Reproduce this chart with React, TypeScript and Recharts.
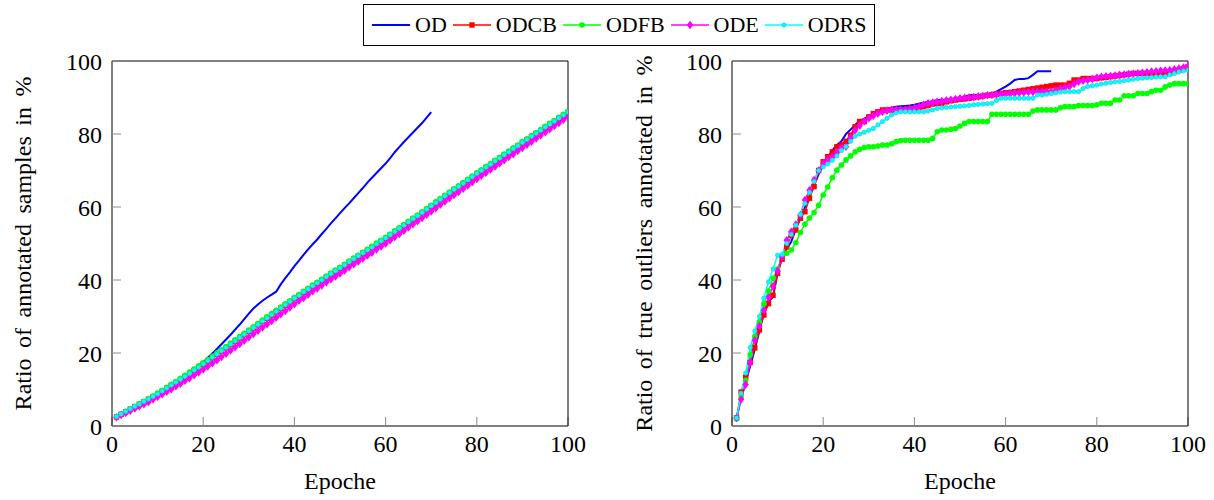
import React from 'react';
import { LineChart, Line, XAxis, YAxis } from 'recharts';

const epochTicks = [0, 20, 40, 60, 80, 100];
const ratioTicks = [0, 20, 40, 60, 80, 100];

// left panel: ratio of annotated samples (%)
const annotatedOD = [
  2.5, 3.2, 3.9, 4.6, 5.3, 6.0, 6.7, 7.5, 8.2, 9.0,
  9.8, 10.6, 11.4, 12.2, 13.0, 13.8, 14.7, 15.6, 16.5, 17.5,
  18.7, 19.9, 21.1, 22.4, 23.7, 25.0, 26.4, 27.8, 29.3, 30.8,
  32.2, 33.3, 34.3, 35.2, 36.0, 36.8, 38.8, 40.5, 42.1, 43.8,
  45.3, 46.9, 48.4, 49.8, 51.1, 52.6, 54.0, 55.5, 56.9, 58.3,
  59.7, 61.0, 62.4, 63.8, 65.2, 66.7, 68.0, 69.3, 70.6, 71.9,
  73.4, 75.0, 76.4, 77.8, 79.1, 80.4, 81.7, 83.0, 84.5, 86.0,
];
const annotatedODCB = [
  2.5, 3.2, 3.9, 4.6, 5.3, 6.0, 6.6, 7.3, 8.0, 8.7,
  9.5, 10.3, 11.1, 11.9, 12.7, 13.5, 14.3, 15.2, 16.0, 16.9,
  17.8, 18.7, 19.6, 20.5, 21.4, 22.3, 23.2, 24.1, 25.0, 25.9,
  26.8, 27.7, 28.6, 29.5, 30.4, 31.3, 32.2, 33.1, 34.0, 34.9,
  35.7, 36.6, 37.4, 38.3, 39.1, 39.9, 40.8, 41.6, 42.4, 43.2,
  44.0, 44.9, 45.7, 46.5, 47.3, 48.1, 48.9, 49.8, 50.6, 51.4,
  52.3, 53.2, 54.0, 54.9, 55.8, 56.7, 57.5, 58.4, 59.3, 60.2,
  61.1, 62.0, 62.9, 63.8, 64.7, 65.5, 66.4, 67.3, 68.2, 69.1,
  69.9, 70.8, 71.6, 72.5, 73.3, 74.2, 75.0, 75.9, 76.7, 77.6,
  78.4, 79.3, 80.1, 80.9, 81.8, 82.6, 83.4, 84.3, 85.1, 85.9,
];
const annotatedODFB = [
  2.6, 3.3, 4.0, 4.7, 5.4, 6.1, 6.8, 7.5, 8.2, 9.0,
  9.8, 10.6, 11.4, 12.2, 13.1, 13.9, 14.8, 15.6, 16.5, 17.3,
  18.2, 19.1, 20.0, 20.9, 21.8, 22.7, 23.6, 24.5, 25.4, 26.3,
  27.2, 28.1, 29.0, 29.9, 30.8, 31.7, 32.6, 33.5, 34.3, 35.2,
  36.0, 36.9, 37.7, 38.6, 39.4, 40.2, 41.1, 41.9, 42.7, 43.5,
  44.3, 45.2, 46.0, 46.8, 47.6, 48.4, 49.2, 50.1, 50.9, 51.7,
  52.6, 53.5, 54.3, 55.2, 56.1, 57.0, 57.8, 58.7, 59.6, 60.5,
  61.4, 62.3, 63.2, 64.1, 65.0, 65.8, 66.7, 67.6, 68.5, 69.4,
  70.2, 71.1, 71.9, 72.8, 73.6, 74.5, 75.3, 76.2, 77.0, 77.9,
  78.7, 79.6, 80.4, 81.2, 82.1, 82.9, 83.7, 84.6, 85.4, 86.2,
];
const annotatedODE = [
  2.4, 3.0, 3.6, 4.2, 4.8, 5.4, 6.0, 6.6, 7.3, 8.0,
  8.7, 9.4, 10.1, 10.9, 11.6, 12.4, 13.1, 13.9, 14.7, 15.5,
  16.3, 17.2, 18.0, 18.9, 19.8, 20.7, 21.6, 22.5, 23.4, 24.3,
  25.2, 26.1, 27.0, 27.9, 28.8, 29.7, 30.6, 31.5, 32.5, 33.4,
  34.3, 35.1, 36.0, 36.9, 37.7, 38.5, 39.4, 40.2, 41.0, 41.8,
  42.6, 43.5, 44.3, 45.1, 45.9, 46.7, 47.5, 48.4, 49.2, 50.0,
  50.9, 51.8, 52.6, 53.5, 54.4, 55.3, 56.1, 57.0, 57.9, 58.8,
  59.7, 60.6, 61.5, 62.4, 63.3, 64.1, 65.0, 65.9, 66.8, 67.7,
  68.6, 69.4, 70.3, 71.1, 72.0, 72.8, 73.7, 74.5, 75.4, 76.2,
  77.1, 77.9, 78.8, 79.6, 80.5, 81.3, 82.2, 83.0, 83.9, 84.7,
];
const annotatedODRS = [
  2.6, 3.3, 4.0, 4.7, 5.4, 6.0, 6.7, 7.4, 8.1, 8.8,
  9.6, 10.4, 11.2, 12.0, 12.8, 13.6, 14.4, 15.3, 16.1, 17.0,
  17.9, 18.8, 19.7, 20.6, 21.5, 22.4, 23.3, 24.2, 25.1, 26.0,
  26.9, 27.8, 28.7, 29.6, 30.5, 31.4, 32.3, 33.2, 34.1, 35.0,
  35.8, 36.7, 37.5, 38.4, 39.2, 40.0, 40.9, 41.7, 42.5, 43.3,
  44.1, 45.0, 45.8, 46.6, 47.4, 48.2, 49.0, 49.9, 50.7, 51.5,
  52.4, 53.3, 54.1, 55.0, 55.9, 56.8, 57.6, 58.5, 59.4, 60.3,
  61.2, 62.1, 63.0, 63.9, 64.8, 65.6, 66.5, 67.4, 68.3, 69.2,
  70.0, 70.9, 71.7, 72.6, 73.4, 74.3, 75.1, 76.0, 76.8, 77.7,
  78.5, 79.4, 80.2, 81.0, 81.9, 82.7, 83.5, 84.4, 85.2, 86.0,
];

// right panel: ratio of true outliers annotated (%)
const outlierOD = [
  2.0, 8.0, 12.0, 16.5, 21.0, 26.0, 31.0, 34.0, 35.4, 42.0,
  46.5, 48.5, 50.5, 54.0, 57.0, 60.0, 63.0, 66.0, 69.0, 71.5,
  73.5, 75.5, 77.0, 78.0, 80.0, 81.2, 82.5, 83.6, 84.2, 84.8,
  85.5, 86.0, 86.4, 86.8, 87.2, 87.5, 87.6, 87.7, 87.8, 88.0,
  88.3, 88.6, 88.8, 89.0, 89.3, 89.3, 89.4, 89.5, 89.6, 89.8,
  90.2, 90.6, 90.7, 90.7, 90.7, 90.9, 91.1, 91.6, 92.3, 93.0,
  93.8, 94.8, 95.1, 95.1, 95.3, 96.2, 97.2, 97.2, 97.2, 97.2,
];
const outlierODCB = [
  2.2, 9.3, 13.4, 17.4, 21.4, 26.3, 30.4, 33.5, 35.8, 41.8,
  45.7, 49.1, 52.3, 53.7, 56.9, 58.7, 62.4, 65.6, 70.0, 72.4,
  73.8, 75.1, 76.5, 77.0, 78.0, 79.7, 82.0, 83.4, 83.4, 84.7,
  85.6, 86.1, 86.6, 86.6, 86.6, 86.6, 86.6, 86.6, 86.8, 87.0,
  87.3, 87.5, 87.8, 88.2, 88.4, 88.4, 88.8, 89.1, 89.3, 89.5,
  89.6, 89.8, 90.0, 90.2, 90.4, 90.6, 90.7, 90.9, 91.1, 91.3,
  91.4, 91.6, 91.8, 92.0, 92.2, 92.4, 92.6, 92.8, 93.0, 93.2,
  93.4, 93.4, 93.4, 93.9, 94.8, 94.8, 95.2, 95.2, 95.2, 95.2,
  95.4, 95.5, 95.7, 95.9, 96.0, 96.2, 96.4, 96.6, 96.6, 96.6,
  96.6, 96.6, 96.6, 96.6, 96.6, 96.6, 97.1, 97.5, 97.9, 98.4,
];
const outlierODFB = [
  2.0, 8.0, 12.5, 19.5, 24.5, 28.5, 33.5, 37.0, 40.5, 43.0,
  46.5, 47.3, 48.2, 50.2, 53.0, 55.3, 57.0, 58.5, 60.5, 63.3,
  65.5, 68.0, 70.1, 71.5, 72.9, 74.0, 75.1, 75.8, 76.3, 76.5,
  76.5, 76.7, 77.0, 77.0, 77.3, 77.9, 78.2, 78.3, 78.3, 78.3,
  78.3, 78.3, 78.3, 78.8, 80.6, 81.1, 81.1, 81.3, 81.5, 82.2,
  82.9, 83.4, 83.4, 83.4, 83.4, 83.4, 85.4, 85.4, 85.4, 85.4,
  85.4, 85.4, 85.4, 85.4, 85.4, 86.3, 86.6, 86.6, 86.6, 86.6,
  86.6, 87.2, 87.5, 87.5, 87.5, 87.8, 87.8, 87.8, 87.8, 88.0,
  88.4, 88.4, 88.4, 89.3, 89.3, 90.5, 90.5, 90.5, 91.1, 91.1,
  91.1, 91.6, 92.0, 92.0, 92.9, 93.4, 93.8, 93.8, 93.8, 93.8,
];
const outlierODE = [
  2.2, 7.3, 11.4, 17.4, 23.5, 27.4, 31.7, 35.2, 38.3, 42.5,
  46.3, 50.9, 53.2, 55.2, 57.8, 61.9, 64.6, 67.4, 70.0, 71.9,
  72.9, 73.8, 75.0, 76.2, 76.5, 79.0, 81.0, 82.3, 83.5, 84.3,
  85.0, 85.6, 86.1, 86.4, 86.6, 86.6, 86.6, 86.6, 86.8, 87.1,
  87.5, 88.0, 88.4, 88.6, 88.8, 89.0, 89.2, 89.4, 89.6, 89.8,
  89.9, 90.0, 90.1, 90.3, 90.4, 90.6, 90.7, 90.8, 90.9, 91.0,
  91.1, 91.2, 91.3, 91.4, 91.5, 91.5, 91.6, 91.6, 91.6, 91.6,
  92.0, 92.4, 92.7, 93.0, 93.7, 94.3, 94.6, 94.8, 95.1, 95.4,
  95.7, 95.8, 95.9, 96.0, 96.2, 96.3, 96.4, 96.5, 96.6, 96.8,
  96.9, 97.1, 97.2, 97.3, 97.4, 97.5, 97.7, 97.9, 98.2, 98.6,
];
const outlierODRS = [
  2.2, 9.0, 14.5, 21.5, 26.0, 30.0, 35.0, 39.5, 43.0, 46.8,
  47.0, 50.0, 52.5, 55.0, 58.0, 61.0, 64.0, 67.0, 70.0, 71.0,
  71.8, 72.8, 74.0, 75.5, 76.5, 78.0, 79.4, 80.0, 80.5, 81.0,
  81.5, 82.5, 83.4, 84.3, 85.2, 85.8, 86.1, 86.1, 86.1, 86.1,
  86.1, 86.1, 86.3, 86.6, 87.0, 87.2, 87.3, 87.4, 87.5, 87.6,
  87.7, 87.8, 88.0, 88.1, 88.2, 88.3, 88.4, 89.2, 89.8, 89.8,
  89.8, 89.8, 89.8, 89.8, 89.8, 89.8, 90.7, 90.7, 90.9, 91.1,
  91.3, 91.5, 91.6, 91.6, 91.6, 91.6, 92.5, 93.0, 93.2, 93.4,
  93.7, 93.9, 94.1, 94.3, 94.4, 94.6, 94.8, 95.0, 95.2, 95.3,
  95.4, 95.5, 95.6, 95.7, 95.7, 96.2, 96.6, 97.0, 97.3, 97.5,
];

const FONT = "'Liberation Serif', 'Times New Roman', Times, 'DejaVu Serif', 'Noto Serif', serif";
const TICK_GREY = '#8c8c8c';

type Marker = 'none' | 'square' | 'circle' | 'diamond' | 'dot';

const seriesDefs: { key: string; color: string; width: number; marker: Marker }[] = [
  { key: 'OD', color: '#0000ff', width: 2, marker: 'none' },
  { key: 'ODCB', color: '#ff0000', width: 1.5, marker: 'square' },
  { key: 'ODFB', color: '#00ff00', width: 1.5, marker: 'circle' },
  { key: 'ODE', color: '#ff00ff', width: 1.5, marker: 'diamond' },
  { key: 'ODRS', color: '#00ffff', width: 1.5, marker: 'dot' },
];

function buildRows(od: number[], cb: number[], fb: number[], e: number[], rs: number[]) {
  return cb.map((v, i) => ({
    epoch: i + 1,
    OD: i < od.length ? od[i] : null,
    ODCB: v,
    ODFB: fb[i],
    ODE: e[i],
    ODRS: rs[i],
  }));
}

const leftRows = buildRows(annotatedOD, annotatedODCB, annotatedODFB, annotatedODE, annotatedODRS);
const rightRows = buildRows(outlierOD, outlierODCB, outlierODFB, outlierODE, outlierODRS);

function markerShape(marker: Marker, color: string, cx: number, cy: number, key?: string) {
  switch (marker) {
    case 'square':
      return <rect key={key} x={cx - 2.7} y={cy - 2.7} width={5.4} height={5.4} fill={color} />;
    case 'circle':
      return <circle key={key} cx={cx} cy={cy} r={2.8} fill={color} />;
    case 'diamond':
      return (
        <path
          key={key}
          d={`M${cx},${cy - 4.3} L${cx + 3.2},${cy} L${cx},${cy + 4.3} L${cx - 3.2},${cy} Z`}
          fill={color}
        />
      );
    case 'dot':
      return <circle key={key} cx={cx} cy={cy} r={2.2} fill={color} stroke="#22c8d8" strokeWidth={0.6} />;
    default:
      return <g key={key} />;
  }
}

function makeDot(marker: Marker, color: string) {
  if (marker === 'none') return false;
  return (p: any) => {
    const k = `m-${p.index}`;
    if (p.cx == null || p.cy == null || p.value == null) return <g key={k} />;
    return markerShape(marker, color, p.cx, p.cy, k);
  };
}

const axisText = { fontSize: 24, fill: '#000', fontFamily: FONT };

interface PanelProps {
  rows: any[];
  yLabel: string;
  marginLeft: number;
  marginRight: number;
  labelOffset: number;
}

const Panel: React.FC<PanelProps> = ({ rows, yLabel, marginLeft, marginRight, labelOffset }) => (
  <LineChart
    width={600}
    height={500}
    data={rows}
    margin={{ top: 51, right: marginRight, bottom: 0, left: marginLeft }}
    style={{ fontFamily: FONT }}
  >
    <XAxis
      dataKey="epoch"
      type="number"
      domain={[0, 100]}
      ticks={epochTicks}
      allowDataOverflow
      height={74}
      axisLine={{ stroke: '#000', strokeWidth: 1 }}
      tickLine={{ stroke: TICK_GREY }}
      tickSize={-9}
      tickMargin={18}
      tick={axisText}
      label={{ value: 'Epoche', position: 'insideBottom', offset: 11, style: { ...axisText, textAnchor: 'middle' } }}
    />
    <XAxis
      xAxisId="top"
      orientation="top"
      type="number"
      domain={[0, 100]}
      ticks={epochTicks}
      allowDataOverflow
      height={10}
      axisLine={{ stroke: '#000', strokeWidth: 1 }}
      tickLine={{ stroke: TICK_GREY }}
      tickSize={-9}
      tick={false}
    />
    <YAxis
      type="number"
      domain={[0, 100]}
      ticks={ratioTicks}
      allowDataOverflow
      width={100}
      axisLine={{ stroke: '#000', strokeWidth: 1 }}
      tickLine={{ stroke: TICK_GREY }}
      tickSize={-9}
      tickMargin={19}
      tick={axisText}
      label={{
        value: yLabel,
        angle: -90,
        position: 'insideLeft',
        offset: labelOffset,
        style: { ...axisText, textAnchor: 'middle', wordSpacing: '4.5px' },
      }}
    />
    <YAxis
      yAxisId="right"
      orientation="right"
      type="number"
      domain={[0, 100]}
      ticks={ratioTicks}
      allowDataOverflow
      width={10}
      axisLine={{ stroke: '#000', strokeWidth: 1 }}
      tickLine={{ stroke: TICK_GREY }}
      tickSize={-9}
      tick={false}
    />
    {seriesDefs.map((s) => (
      <Line
        key={s.key}
        type="linear"
        dataKey={s.key}
        stroke={s.color}
        strokeWidth={s.width}
        dot={makeDot(s.marker, s.color)}
        activeDot={false}
        isAnimationActive={false}
      />
    ))}
  </LineChart>
);

const LegendBox: React.FC = () => (
  <div
    style={{
      position: 'absolute',
      left: 363,
      top: 4,
      width: 502,
      height: 40,
      border: '1px solid #000',
      display: 'flex',
      alignItems: 'center',
      paddingLeft: 8,
      boxSizing: 'content-box',
      fontFamily: FONT,
      fontSize: 22,
      color: '#000',
    }}
  >
    {seriesDefs.map((s) => (
      <div key={s.key} style={{ display: 'flex', alignItems: 'center', marginRight: 6 }}>
        <svg width={38} height={12} style={{ marginRight: 5 }}>
          <line x1={0} y1={6} x2={38} y2={6} stroke={s.color} strokeWidth={s.width} />
          {markerShape(s.marker, s.color, 19, 6)}
        </svg>
        <span style={{ lineHeight: '22px' }}>{s.key}</span>
      </div>
    ))}
  </div>
);

export default function App() {
  return (
    <div
      style={{
        position: 'absolute',
        left: 0,
        top: 0,
        width: 1214,
        height: 500,
        background: '#fff',
        fontFamily: FONT,
      }}
    >
      <div style={{ position: 'absolute', left: 0, top: 0 }}>
        <Panel rows={leftRows} yLabel="Ratio of annotated samples in %" marginLeft={12} marginRight={22} labelOffset={10} />
      </div>
      <div style={{ position: 'absolute', left: 614, top: 0 }}>
        <Panel
          rows={rightRows}
          yLabel="Ratio of true outliers annotated in %"
          marginLeft={18}
          marginRight={16}
          labelOffset={11}
        />
      </div>
      <LegendBox />
    </div>
  );
}
